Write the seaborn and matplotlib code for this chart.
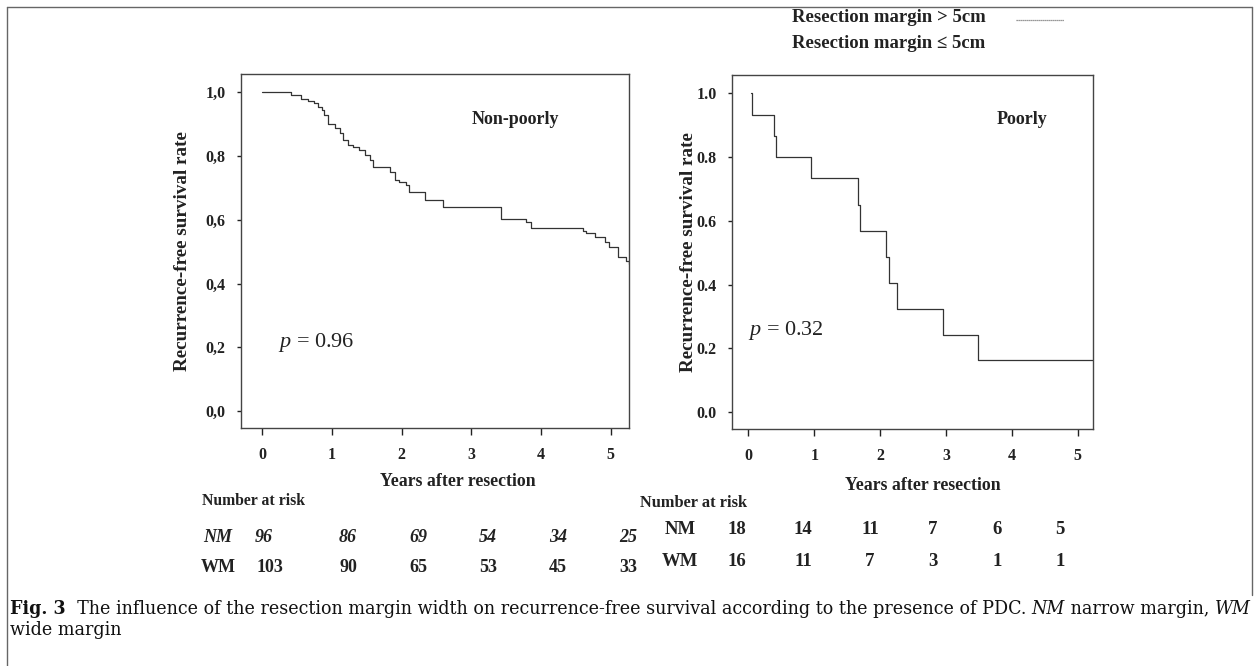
import matplotlib
matplotlib.use('Agg')
import matplotlib.pyplot as plt
from matplotlib.lines import Line2D
import seaborn as sns

# Kaplan-Meier step points (years, recurrence-free rate after each drop)
nonpoor_years = [0.0, 0.415, 0.554, 0.664, 0.75, 0.81, 0.855, 0.89, 0.94, 1.046, 1.117,
                 1.165, 1.237, 1.308, 1.394, 1.476, 1.547, 1.585, 1.834, 1.905, 1.967,
                 2.07, 2.11, 2.335, 2.598, 3.43, 3.79, 3.86, 4.60, 4.65, 4.77, 4.91,
                 4.98, 5.10, 5.22, 5.26]
nonpoor_rfs = [1.0, 0.992, 0.980, 0.973, 0.965, 0.955, 0.944, 0.929, 0.900, 0.889, 0.873,
               0.850, 0.835, 0.827, 0.819, 0.803, 0.788, 0.765, 0.751, 0.725, 0.718,
               0.709, 0.688, 0.662, 0.641, 0.601, 0.592, 0.575, 0.564, 0.557, 0.547, 0.531,
               0.514, 0.482, 0.472, 0.460]

poor_years = [0.04, 0.05, 0.38, 0.42, 0.95, 1.66, 1.70, 2.09, 2.14, 2.26, 2.96, 3.48, 5.23]
poor_rfs = [1.0, 0.933, 0.867, 0.800, 0.733, 0.650, 0.567, 0.487, 0.405, 0.324, 0.243,
            0.162, 0.162]

year_ticks = [0, 1, 2, 3, 4, 5]
rate_ticks = [0.0, 0.2, 0.4, 0.6, 0.8, 1.0]
rate_labels_left = ['0,0', '0,2', '0,4', '0,6', '0,8', '1,0']
rate_labels_right = ['0.0', '0.2', '0.4', '0.6', '0.8', '1.0']

# number at risk
nonpoor_nm = [96, 86, 69, 54, 34, 25]
nonpoor_wm = [103, 90, 65, 53, 45, 33]
poor_nm = [18, 14, 11, 7, 6, 5]
poor_wm = [16, 11, 7, 3, 1, 1]

sns.set_theme(style='white')
plt.rcParams['font.family'] = ['Liberation Serif', 'DejaVu Serif']
plt.rcParams['mathtext.fontset'] = 'custom'
plt.rcParams['mathtext.rm'] = 'Liberation Serif'
plt.rcParams['mathtext.it'] = 'Liberation Serif:italic'

W, H = 1254, 666
fig = plt.figure(figsize=(W / 100, H / 100), dpi=100)


def fx(x):
    return x / W


def fy(y):
    return 1 - y / H


ink = '#222222'
ax1 = fig.add_axes([fx(241), fy(428), fx(629) - fx(241), fy(74) - fy(428)])
ax2 = fig.add_axes([fx(732), fy(429), fx(1093) - fx(732), fy(75) - fy(429)])

sns.lineplot(x=nonpoor_years, y=nonpoor_rfs, drawstyle='steps-post', estimator=None,
             color='#333333', lw=0.9, ax=ax1)
sns.lineplot(x=poor_years, y=poor_rfs, drawstyle='steps-post', estimator=None,
             color='#333333', lw=0.9, ax=ax2)

for ax, xlim, ylabels in [(ax1, (-0.30, 5.26), rate_labels_left),
                          (ax2, (-0.25, 5.23), rate_labels_right)]:
    ax.set_xlim(*xlim)
    ax.set_ylim(-0.053, 1.057)
    ax.set_xticks(year_ticks)
    ax.set_xticklabels([str(v) for v in year_ticks], fontweight='bold', fontsize=11.5)
    ax.set_yticks(rate_ticks)
    ax.set_yticklabels(ylabels, fontweight='bold', fontsize=11.5)
    ax.tick_params(axis='x', bottom=True, direction='out', length=5, width=1,
                   color=ink, pad=9, labelcolor=ink)
    ax.tick_params(axis='y', left=True, direction='out', length=3, width=1,
                   color=ink, pad=8, labelcolor=ink)
    for sp in ax.spines.values():
        sp.set_visible(True)
        sp.set_color('#444444')
        sp.set_linewidth(1.0)
    ax.set_ylabel('Recurrence-free survival rate', fontweight='bold', fontsize=13.8,
                  color=ink, va='center')
    ax.set_xlabel('Years after resection', fontweight='bold', fontsize=12.8,
                  color=ink, va='center')

ax1.yaxis.set_label_coords(-0.152, 0.5)
ax1.xaxis.set_label_coords((458 - 241) / 388, -(482 - 428) / 354)
ax2.yaxis.set_label_coords(-0.121, 0.5)
ax2.xaxis.set_label_coords((923 - 732) / 361, -(485 - 429) / 354)

# panel titles and p values
fig.text(fx(515), fy(119), 'Non-poorly', fontsize=13, fontweight='bold', color=ink,
         ha='center', va='center')
fig.text(fx(1022), fy(120), 'Poorly', fontsize=13, fontweight='bold', color=ink,
         ha='center', va='center')
fig.text(fx(278), fy(343), '$p$ = 0.96', fontsize=16, color=ink, va='center')
fig.text(fx(748), fy(330), '$p$ = 0.32', fontsize=16, color=ink, va='center')

# legend at the top
fig.text(fx(792), fy(17), 'Resection margin > 5cm', fontsize=13.5, fontweight='bold',
         color=ink, va='center')
fig.text(fx(792), fy(43), 'Resection margin ≤ 5cm', fontsize=13.5, fontweight='bold',
         color=ink, va='center')
fig.add_artist(Line2D([fx(1016), fx(1064)], [fy(20), fy(20)], transform=fig.transFigure,
                      color='#777777', lw=0.9, ls=(0, (1, 0.6))))

# number at risk tables
left_cols = [264, 348, 418, 488, 558, 628]
right_cols = [737, 803, 870, 933, 997, 1060]
fig.text(fx(202), fy(501), 'Number at risk', fontsize=11.3, fontweight='bold', color=ink,
         va='center')
fig.text(fx(640), fy(503), 'Number at risk', fontsize=11.8, fontweight='bold', color=ink,
         va='center')
fig.text(fx(218), fy(537), 'NM', fontsize=13, fontweight='bold', style='italic',
         color=ink, ha='center', va='center')
fig.text(fx(218), fy(568), 'WM', fontsize=13, fontweight='bold', color=ink,
         ha='center', va='center')
for cx, nm, wm in zip(left_cols, nonpoor_nm, nonpoor_wm):
    fig.text(fx(cx), fy(537), str(nm), fontsize=13, fontweight='bold', style='italic',
             color=ink, ha='center', va='center')
    fig.text(fx(cx + (6 if wm > 99 else 0)), fy(568), str(wm), fontsize=13,
             fontweight='bold', color=ink, ha='center', va='center')
fig.text(fx(680), fy(530), 'NM', fontsize=13.5, fontweight='bold', color=ink,
         ha='center', va='center')
fig.text(fx(680), fy(562), 'WM', fontsize=13.5, fontweight='bold', color=ink,
         ha='center', va='center')
for cx, nm, wm in zip(right_cols, poor_nm, poor_wm):
    fig.text(fx(cx), fy(530), str(nm), fontsize=13.5, fontweight='bold', color=ink,
             ha='center', va='center')
    fig.text(fx(cx), fy(562), str(wm), fontsize=13.5, fontweight='bold', color=ink,
             ha='center', va='center')

# caption, laid out run by run and fitted to the frame width
renderer = fig.canvas.get_renderer()
cap_font = ['DejaVu Serif']
line1 = [('Fig. 3', dict(fontweight='bold')),
         ('  The influence of the resection margin width on recurrence-free '
          'survival according to the presence of PDC.', {}),
         (' ', {}),
         ('NM', dict(style='italic')),
         (' narrow margin,', {}),
         (' ', {}),
         ('WM', dict(style='italic'))]


def caption_line(x, y, runs, size):
    arts = []
    for s, kw in runs:
        t = fig.text(fx(x), fy(y), s, fontsize=size, family=cap_font, color='#111111',
                     va='baseline', **kw)
        x += t.get_window_extent(renderer).width
        arts.append(t)
    return x, arts


end, arts = caption_line(10, 614, line1, 12)
for a in arts:
    a.remove()
cap_size = 12 * (1250 - 10) / (end - 10)
caption_line(10, 614, line1, cap_size)
caption_line(10, 635, [('wide margin', {})], cap_size)

# frame around the figure
frame = dict(transform=fig.transFigure, color='#666666', lw=1.0)
fig.add_artist(Line2D([fx(7), fx(7)], [fy(7), fy(666)], **frame))
fig.add_artist(Line2D([fx(7), fx(1252)], [fy(7), fy(7)], **frame))
fig.add_artist(Line2D([fx(1252), fx(1252)], [fy(7), fy(595)], **frame))

fig.savefig('out.png', dpi=100, facecolor='white')
